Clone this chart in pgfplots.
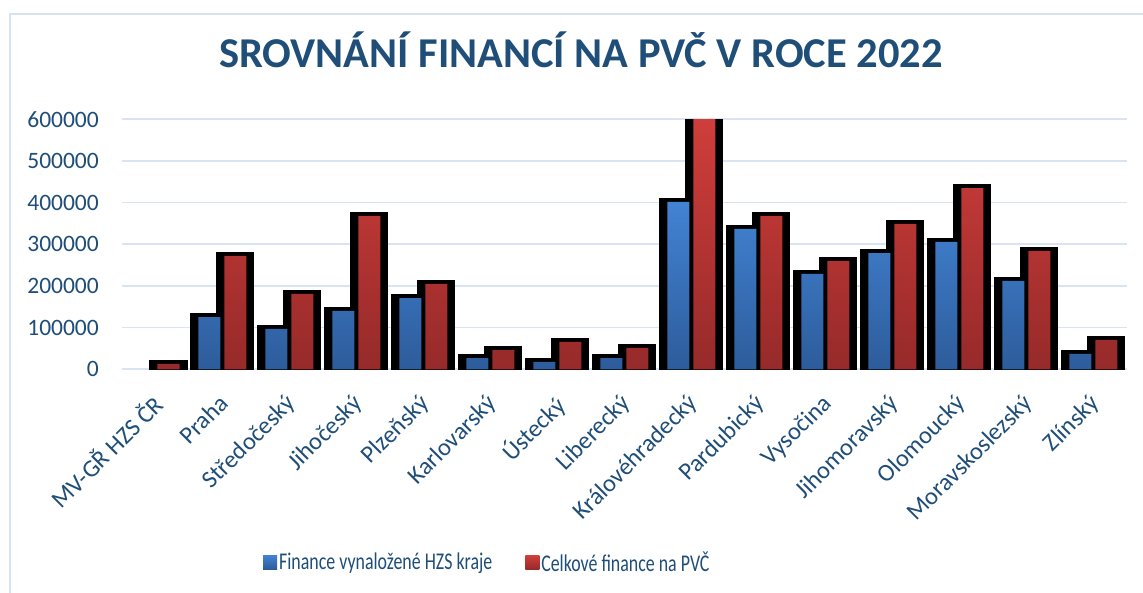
\documentclass[border=0pt]{standalone}
\usepackage{pgfplots}
\pgfplotsset{compat=1.18}
\usepackage{pgfplotstable}
\usepackage{graphicx}
\usepackage{fontspec}
\setmainfont{Carlito}
\definecolor{tx}{HTML}{1F4E79}
\definecolor{frame}{HTML}{D6E2F2}
\definecolor{gridc}{HTML}{D9E3F1}
\definecolor{blueT}{HTML}{4283D3}
\definecolor{blueB}{HTML}{2D5C9B}
\definecolor{redT}{HTML}{D33F3B}
\definecolor{redB}{HTML}{962A2A}

\pgfplotstableread{
x hzs total
0 nan 13000
1 125500 272000
2 96800 180800
3 140000 368000
4 171000 204800
5 27000 46000
6 17600 65600
7 27000 51200
8 401600 640000
9 336800 368000
10 228800 260000
11 279000 348800
12 305600 435000
13 212000 284000
14 36800 70400
}\data

\begin{document}
\begin{tikzpicture}
\useasboundingbox (0,0) rectangle (1143bp,593bp);
\fill[white] (0,0) rectangle (1143bp,593bp);
\draw[color=frame, line width=2bp] (10bp,0) -- (10bp,579bp) -- (1143bp,579bp);
\node[font=\fontsize{42.5bp}{46bp}\selectfont\bfseries, text=tx, anchor=base] at (581bp,525.7bp) {SROVNÁNÍ FINANCÍ NA PVČ V ROCE 2022};
\begin{axis}[
  at={(122bp,223.7bp)}, anchor=south west,
  scale only axis, width=1005bp, height=250bp,
  xmin=-0.5, xmax=14.5, ymin=0, ymax=600000,
  axis line style={draw=none},
  major tick length=0pt,
  ymajorgrids, grid style={color=gridc, line width=1.6bp},
  scaled y ticks=false,
  ytick={0,100000,200000,300000,400000,500000,600000},
  yticklabels={0,100000,200000,300000,400000,500000,600000},
  yticklabel style={font=\fontsize{23.5bp}{26bp}\selectfont, text=tx, anchor=east, inner sep=0pt, xshift=-23bp},
  xtick={0,...,14},
  xticklabels={MV-GŘ HZS ČR,Praha,Středočeský,Jihočeský,Plzeňský,Karlovarský,Ústecký,Liberecký,Královéhradecký,Pardubický,Vysočina,Jihomoravský,Olomoucký,Moravskoslezský,Zlínský},
  xticklabel style={font=\fontsize{24.5bp}{27bp}\selectfont, text=tx, rotate=45, anchor=north east, inner sep=1bp, xshift=-19bp, yshift=-12bp},
  legend style={at={(0.1403,-0.771)}, anchor=west, draw=none, fill=none, inner sep=0pt,
    legend columns=2, font=\fontsize{24bp}{26bp}\selectfont, text=tx,
    /tikz/every even column/.append style={column sep=31bp}},
  legend cell align=left,
]
\addplot[ybar, bar width=30bp, bar shift=-13bp, fill=black, draw=black, line width=8bp, forget plot] table[x=x, y=hzs] {\data};
\addplot[ybar, bar width=30bp, bar shift=13bp, fill=black, draw=black, line width=8bp, forget plot] table[x=x, y=total] {\data};
\addplot[ybar, bar width=22bp, bar shift=-13bp, draw=none, top color=blueT, bottom color=blueB,
  legend image code/.code={\shade[top color=blueT, bottom color=blueB] (0bp,-7bp) rectangle (14bp,7bp);}] table[x=x, y=hzs] {\data};
\addlegendentry{\scalebox{0.745}[1]{Finance vynaložené HZS kraje}}
\addplot[ybar, bar width=22bp, bar shift=13bp, draw=none, top color=redT, bottom color=redB,
  legend image code/.code={\shade[top color=redT, bottom color=redB] (0bp,-7bp) rectangle (14bp,7bp);}] table[x=x, y=total] {\data};
\addlegendentry{\scalebox{0.745}[1]{Celkové finance na PVČ}}
\end{axis}
\end{tikzpicture}
\end{document}
